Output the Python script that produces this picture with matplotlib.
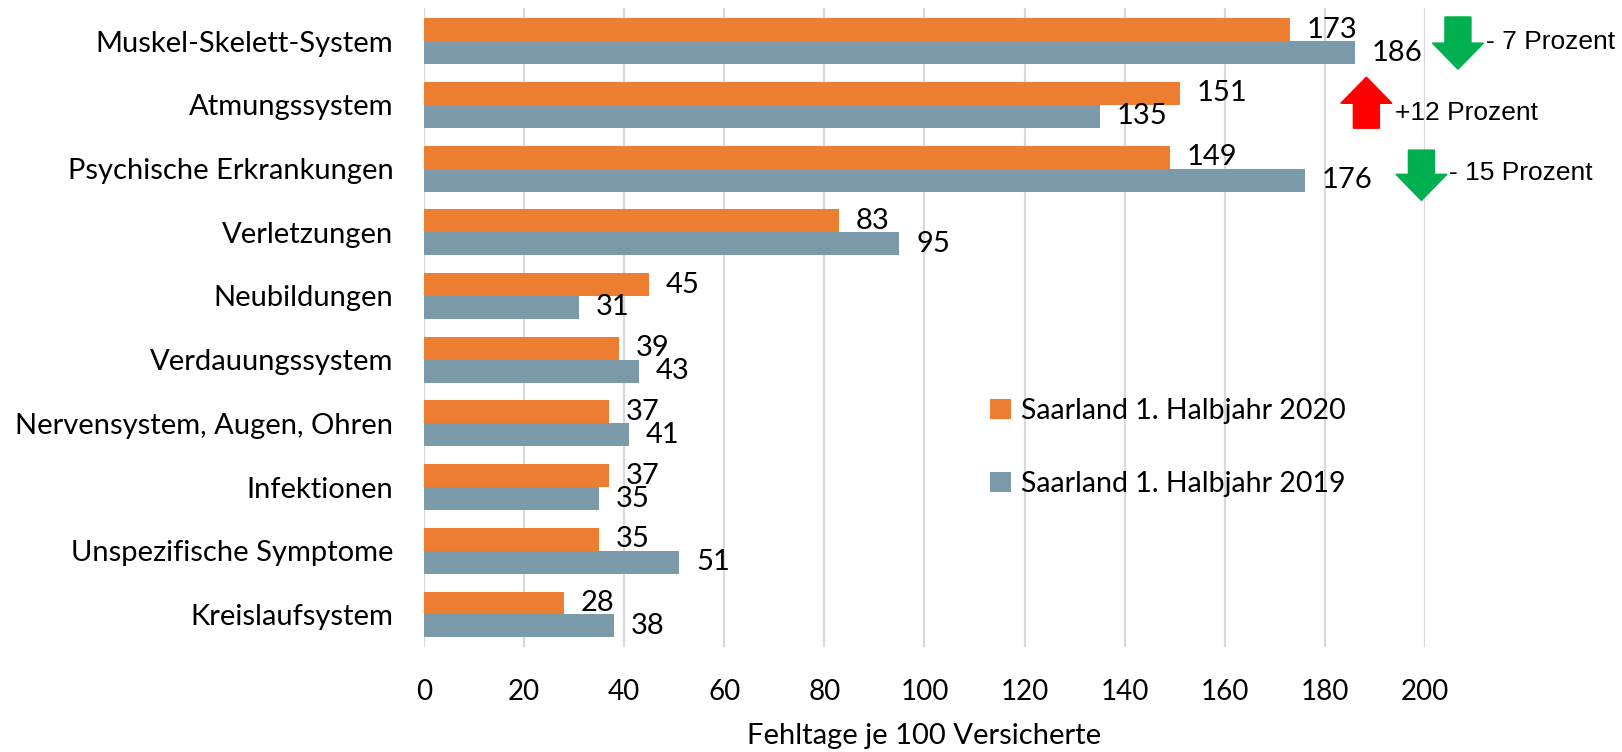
import matplotlib
matplotlib.use('Agg')
import matplotlib.pyplot as plt
from matplotlib.patches import Polygon

categories = ['Muskel-Skelett-System', 'Atmungssystem', 'Psychische Erkrankungen',
              'Verletzungen', 'Neubildungen', 'Verdauungssystem',
              'Nervensystem, Augen, Ohren', 'Infektionen',
              'Unspezifische Symptome', 'Kreislaufsystem']
values_2020 = [173, 151, 149, 83, 45, 39, 37, 37, 35, 28]
values_2019 = [186, 135, 176, 95, 31, 43, 41, 35, 51, 38]
label_2020 = 'Saarland 1. Halbjahr 2020'
label_2019 = 'Saarland 1. Halbjahr 2019'
xticks = [0, 20, 40, 60, 80, 100, 120, 140, 160, 180, 200]
xlabel = 'Fehltage je 100 Versicherte'

# change annotations next to the top three categories
changes = ['- 7 Prozent', '+12 Prozent', '- 15 Prozent']
change_dir = [-1, 1, -1]

orange = '#ED7D31'
grayblue = '#7B9BAA'

plt.rcParams['font.family'] = ['Lato', 'DejaVu Sans']

fig = plt.figure(figsize=(16.22, 7.52), dpi=100)
ax = fig.add_axes([0.2614, 0.1396, 0.6171, 0.8497])

pos = list(range(len(categories)))
h = 0.361
b20 = ax.barh([p - 0.18 for p in pos], values_2020, height=h, color=orange,
              label=label_2020, zorder=3)
b19 = ax.barh([p + 0.18 for p in pos], values_2019, height=h, color=grayblue,
              label=label_2019, zorder=3)
ax.bar_label(b20, padding=12, fontsize=21)
ax.bar_label(b19, padding=12, fontsize=21)

ax.set_xlim(0, 200)
ax.set_ylim(9.51, -0.52)
ax.set_yticks(pos)
ax.set_yticklabels(categories, fontsize=21)
ax.set_xticks(xticks)
ax.tick_params(axis='x', labelsize=20, length=0, pad=23)
ax.tick_params(axis='y', length=0, pad=22)
ax.grid(axis='x', color='#D9D9D9', linewidth=1.6, zorder=0)
for s in ax.spines.values():
    s.set_visible(False)
ax.set_xlabel(xlabel, fontsize=21, labelpad=13)

leg = ax.legend(loc='upper left', bbox_to_anchor=(0.540, 0.43), frameon=False,
                fontsize=20.5, handlelength=0.75, handleheight=0.75,
                handletextpad=0.35, labelspacing=1.65)


def arrow(cx, ytop, ybot, d, color):
    hw, sw, hl = 5.1, 2.6, 0.41
    if d < 0:
        pts = [(cx - sw, ytop), (cx + sw, ytop), (cx + sw, ybot - hl), (cx + hw, ybot - hl),
               (cx, ybot), (cx - hw, ybot - hl), (cx - sw, ybot - hl)]
    else:
        pts = [(cx - sw, ybot), (cx + sw, ybot), (cx + sw, ytop + hl), (cx + hw, ytop + hl),
               (cx, ytop), (cx - hw, ytop + hl), (cx - sw, ytop + hl)]
    ax.add_patch(Polygon(pts, closed=True, color=color, clip_on=False, zorder=5))


arrow_x = [206.6, 188.3, 199.3]
arrow_y = [(-0.38, 0.44), (0.565, 1.366), (1.71, 2.50)]
text_xy = [(212.3, 0.02), (194.0, 1.12), (204.8, 2.07)]
for t, d, cx, (yt, yb), (tx, ty) in zip(changes, change_dir, arrow_x, arrow_y, text_xy):
    arrow(cx, yt, yb, d, '#00B050' if d < 0 else '#FF0000')
    ax.text(tx, ty, t, fontsize=19, family='Liberation Sans', va='center', ha='left',
            clip_on=False)

fig.savefig('out.png', dpi=100)
